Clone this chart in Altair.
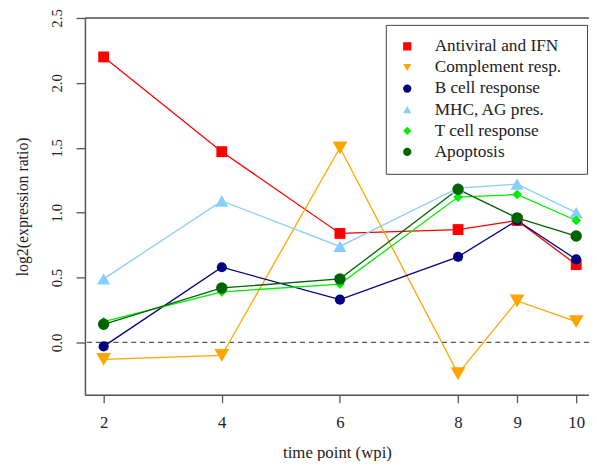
import altair as alt
import pandas as pd

weeks = [2, 4, 6, 8, 9, 10]
series_names = ["Antiviral and IFN", "Complement resp.", "B cell response",
                "MHC, AG pres.", "T cell response", "Apoptosis"]
antiviral = [2.20, 1.47, 0.84, 0.87, 0.94, 0.60]
complement = [-0.13, -0.10, 1.50, -0.24, 0.32, 0.16]
bcell = [-0.03, 0.58, 0.33, 0.66, 0.94, 0.64]
mhc = [0.49, 1.09, 0.74, 1.19, 1.22, 1.00]
tcell = [0.16, 0.39, 0.45, 1.12, 1.14, 0.94]
apoptosis = [0.14, 0.42, 0.49, 1.18, 0.96, 0.82]
colors = ["#ff0000", "#ffa500", "#000080", "#87cefa", "#00ee00", "#006400"]
shapes = ["square", "triangle-down", "circle", "triangle-up", "diamond", "circle"]
sizes = [121, 225, 105, 175, 95, 135]
y_ticks = [0.0, 0.5, 1.0, 1.5, 2.0, 2.5]

values = [antiviral, complement, bcell, mhc, tcell, apoptosis]
rows = []
for i, (name, vals) in enumerate(zip(series_names, values)):
    for w, v in zip(weeks, vals):
        rows.append({"series": name, "week": w, "value": v, "order": i, "sz": sizes[i]})
df = pd.DataFrame(rows)

serif = "Liberation Serif"
axis_col = "#555555"

xscale = alt.Scale(domain=[1.683, 10.217], nice=False, zero=False)
yscale = alt.Scale(domain=[-0.403, 2.5], nice=False, zero=False)

x_axis = alt.Axis(values=weeks, format="d", title="time point (wpi)")
y_axis = alt.Axis(values=y_ticks, format=".1f", title="log2(expression ratio)")

x_enc = alt.X("week:Q", scale=xscale, axis=x_axis)
y_enc = alt.Y("value:Q", scale=yscale, axis=y_axis)

legend = alt.Legend(title=None,
                    orient="none", legendX=305, legendY=7,
                    strokeColor="#444444", fillColor="white",
                    padding=13, labelFont=serif, labelFontSize=17.5,
                    labelColor="#222", symbolSize=70,
                    labelOffset=19, rowPadding=2.4,
                    symbolStrokeWidth=0,
                    labelExpr="datum.label + '\u2800'")
color_enc = alt.Color("series:N", scale=alt.Scale(domain=series_names, range=colors),
                      legend=legend)
shape_enc = alt.Shape("series:N", scale=alt.Scale(domain=series_names, range=shapes),
                      legend=legend)

base = alt.Chart(df)

lines = base.mark_line(strokeWidth=1.3).encode(
    x=x_enc, y=y_enc,
    color=color_enc,
    detail="series:N",
    order="week:Q",
)

points = base.mark_point(filled=True, opacity=1, strokeWidth=0).encode(
    x=x_enc, y=y_enc,
    color=color_enc,
    shape=shape_enc,
    size=alt.Size("sz:Q", scale=None),
    order="order:Q",
)

zero_line = alt.Chart(pd.DataFrame({"value": [0.0]})).mark_rule(
    color=axis_col, strokeDash=[5, 4], strokeWidth=1.3).encode(y=y_enc)
top_line = alt.Chart(pd.DataFrame({"value": [2.5]})).mark_rule(
    color=axis_col, strokeWidth=1.5).encode(y=y_enc)

chart = alt.layer(zero_line, top_line, lines, points).properties(
    width=511, height=382,
    autosize=alt.AutoSizeParams(type="none"),
    padding={"left": 78, "top": 7, "right": 0, "bottom": 64},
).configure_view(stroke=None).configure(background="white").configure_axis(
    grid=False, domainColor=axis_col, tickColor=axis_col, domainWidth=1.5,
    tickWidth=1.3, labelFont=serif, labelColor="#222", titleFont=serif,
    titleFontWeight="normal", titleColor="#222", labelFlush=False,
).configure_axisX(
    tickSize=8, labelFontSize=17, labelPadding=12, titleFontSize=17, titlePadding=15,
).configure_axisY(
    tickSize=9, labelFontSize=15, labelAngle=270, labelAlign="center",
    labelBaseline="bottom", labelPadding=12, titleFontSize=16, titlePadding=19,
)

chart.save("out.html", embed_options={"renderer": "svg", "actions": False})
